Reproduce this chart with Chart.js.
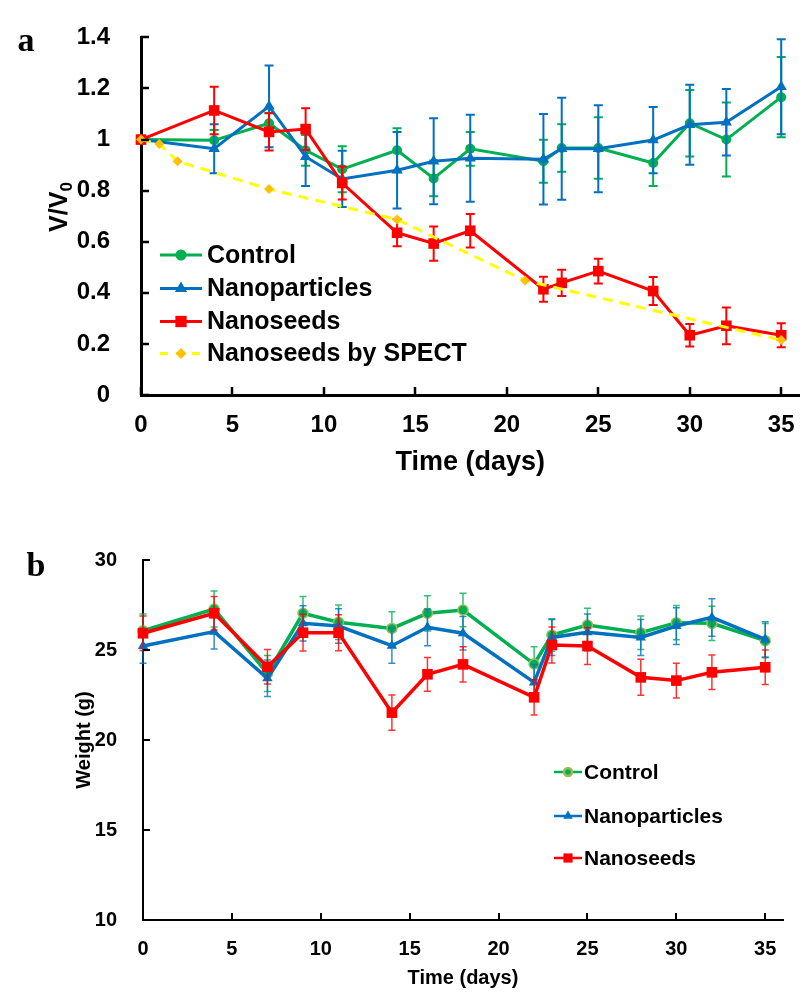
<!DOCTYPE html>
<html>
<head>
<meta charset="utf-8">
<script src="https://cdn.jsdelivr.net/npm/chart.js@4/dist/chart.umd.min.js"></script>
<style>
  body { margin: 0; background: #fff; }
  #wrap { position: relative; width: 807px; height: 996px; }
  canvas { position: absolute; left: 0; }
  #chartA { top: 0; }
  #chartB { top: 500px; }
</style>
</head>
<body>
<div id="wrap">
  <canvas id="chartA" width="807" height="480"></canvas>
  <canvas id="chartB" width="807" height="496"></canvas>
</div>
<script>
// ---- data, panel a (tumour volume) ----
var days = [0, 4, 7, 9, 11, 14, 16, 18, 22, 23, 25, 28, 30, 32, 35];
var controlA = [1.0, 0.997, 1.064, 0.958, 0.884, 0.958, 0.848, 0.964, 0.915, 0.967, 0.967, 0.908, 1.064, 1.0, 1.166];
var controlErrA = [0, 0.04, 0.04, 0.06, 0.09, 0.086, 0.07, 0.066, 0.084, 0.093, 0.12, 0.09, 0.13, 0.145, 0.157];
var particlesA = [1.0, 0.964, 1.13, 0.933, 0.846, 0.88, 0.915, 0.927, 0.923, 0.964, 0.964, 0.998, 1.058, 1.068, 1.207];
var particlesErrA = [0, 0.096, 0.16, 0.115, 0.11, 0.15, 0.168, 0.17, 0.177, 0.2, 0.17, 0.13, 0.157, 0.13, 0.186];
var seedsA = [1.0, 1.114, 1.03, 1.041, 0.83, 0.635, 0.593, 0.643, 0.414, 0.439, 0.485, 0.407, 0.234, 0.271, 0.234];
var seedsErrA = [0, 0.093, 0.073, 0.082, 0.065, 0.053, 0.067, 0.066, 0.049, 0.051, 0.048, 0.055, 0.044, 0.072, 0.047];
var spectDays = [0, 1, 2, 7, 14, 21, 35];
var spectA = [1.0, 0.983, 0.915, 0.806, 0.687, 0.448, 0.215];

// ---- data, panel b (body weight) ----
var controlB = [26.07, 27.28, 23.7, 27.04, 26.54, 26.2, 27.04, 27.22, 24.22, 25.83, 26.39, 25.96, 26.52, 26.48, 25.52];
var controlErrB = [0.93, 1.0, 1.0, 0.93, 0.96, 0.93, 0.98, 0.93, 0.96, 0.9, 0.93, 0.93, 0.95, 0.95, 0.95];
var particlesB = [25.22, 26.02, 23.43, 26.48, 26.33, 25.24, 26.26, 25.93, 23.2, 25.7, 25.98, 25.7, 26.33, 26.81, 25.59];
var particlesErrB = [0.96, 0.96, 1.02, 0.98, 0.96, 0.98, 1.02, 0.93, 1.0, 1.0, 1.02, 1.0, 1.02, 1.04, 0.98];
var seedsB = [25.93, 27.04, 24.07, 25.96, 25.96, 21.52, 23.65, 24.2, 22.37, 25.28, 25.22, 23.48, 23.3, 23.76, 24.04];
var seedsErrB = [0.96, 0.93, 0.96, 1.02, 1.0, 0.98, 0.94, 0.98, 0.98, 1.0, 1.02, 1.0, 0.96, 0.96, 0.96];

var GREEN = '#00b050', BLUE = '#0070c0', RED = '#ff0000', YELLOW = '#ffff00', ORANGE = '#ffc000';

Chart.defaults.font.family = '"Liberation Sans", Arial, sans-serif';
Chart.defaults.font.weight = 'bold';
Chart.defaults.color = '#000';

function pts(xs, ys) {
  return xs.map(function (x, i) { return { x: x, y: ys[i] }; });
}

// error bars drawn under each series
var errorBars = {
  id: 'errorBars',
  beforeDatasetDraw: function (chart, args, opts) {
    var ds = chart.data.datasets[args.index];
    if (!ds.errors) return;
    var ctx = chart.ctx, y = chart.scales.y;
    ctx.save();
    ctx.strokeStyle = ds.errColor || ds.borderColor;
    ctx.lineWidth = opts.width;
    args.meta.data.forEach(function (pt, i) {
      var e = ds.errors[i];
      if (!e) return;
      var v = ds.data[i].y;
      var top = y.getPixelForValue(v + e), bot = y.getPixelForValue(v - e);
      ctx.beginPath();
      ctx.moveTo(pt.x, top); ctx.lineTo(pt.x, bot);
      ctx.moveTo(pt.x - opts.cap, top); ctx.lineTo(pt.x + opts.cap, top);
      ctx.moveTo(pt.x - opts.cap, bot); ctx.lineTo(pt.x + opts.cap, bot);
      ctx.stroke();
    });
    ctx.restore();
  }
};

// tick marks pointing into the plot
var inwardTicks = {
  id: 'inwardTicks',
  afterDraw: function (chart, args, opts) {
    var ctx = chart.ctx, area = chart.chartArea, sx = chart.scales.x, sy = chart.scales.y;
    ctx.save();
    ctx.strokeStyle = '#000';
    ctx.lineWidth = opts.width;
    ctx.beginPath();
    sx.ticks.forEach(function (t) {
      var px = Math.round(sx.getPixelForValue(t.value));
      ctx.moveTo(px, area.bottom); ctx.lineTo(px, area.bottom - opts.len);
    });
    sy.ticks.forEach(function (t) {
      var py = Math.round(sy.getPixelForValue(t.value));
      ctx.moveTo(area.left, py); ctx.lineTo(area.left + opts.len, py);
    });
    ctx.stroke();
    ctx.restore();
  }
};

// legend with line + marker, placed like the original
var lineLegend = {
  id: 'lineLegend',
  afterDraw: function (chart, args, opts) {
    var ctx = chart.ctx;
    ctx.save();
    ctx.font = 'bold ' + opts.size + 'px "Liberation Sans", Arial, sans-serif';
    ctx.textBaseline = 'middle';
    ctx.textAlign = 'left';
    chart.data.datasets.forEach(function (ds, i) {
      var yy = opts.rows[i];
      ctx.strokeStyle = ds.borderColor;
      ctx.lineWidth = opts.lineWidth;
      ctx.setLineDash(ds.borderDash ? opts.dash : []);
      ctx.beginPath();
      ctx.moveTo(opts.x0, yy); ctx.lineTo(opts.x1, yy);
      ctx.stroke();
      ctx.setLineDash([]);
      ctx.fillStyle = ds.pointBackgroundColor;
      ctx.strokeStyle = ds.pointBorderColor;
      Chart.helpers.drawPoint(ctx, {
        pointStyle: ds.pointStyle, rotation: 0,
        radius: opts.radius[i], borderWidth: ds.pointBorderWidth || 0
      }, (opts.x0 + opts.x1) / 2, yy);
      ctx.fillStyle = '#000';
      ctx.fillText(ds.label, opts.tx, yy + 1);
    });
    ctx.restore();
  }
};

// panel letters and the subscripted y title
var extraText = {
  id: 'extraText',
  afterDraw: function (chart, args, opts) {
    var ctx = chart.ctx;
    ctx.save();
    ctx.fillStyle = '#000';
    ctx.textBaseline = 'middle';
    ctx.textAlign = 'center';
    ctx.font = 'bold 34px "Liberation Serif", "Times New Roman", serif';
    ctx.fillText(opts.letter, opts.lx, opts.ly);
    if (opts.vtitle) {
      ctx.translate(opts.vx, opts.vy);
      ctx.rotate(-Math.PI / 2);
      ctx.font = 'bold 25px "Liberation Sans", Arial, sans-serif';
      var main = 'V/V';
      var w1 = ctx.measureText(main).width;
      ctx.font = 'bold 17px "Liberation Sans", Arial, sans-serif';
      var w2 = ctx.measureText('0').width;
      var start = -(w1 + w2) / 2;
      ctx.textAlign = 'left';
      ctx.font = 'bold 25px "Liberation Sans", Arial, sans-serif';
      ctx.fillText(main, start, 0);
      ctx.font = 'bold 17px "Liberation Sans", Arial, sans-serif';
      ctx.fillText('0', start + w1, 7);
    }
    ctx.restore();
  }
};

function plainNum(v) { return String(Math.round(v * 10) / 10); }

// ---------- panel a ----------
new Chart(document.getElementById('chartA'), {
  type: 'line',
  data: {
    datasets: [
      { label: 'Control', data: pts(days, controlA), errors: controlErrA,
        borderColor: GREEN, backgroundColor: GREEN, borderWidth: 3,
        pointStyle: 'circle', pointRadius: 5, pointBackgroundColor: GREEN, pointBorderColor: GREEN, pointBorderWidth: 0,
        order: 4, clip: false },
      { label: 'Nanoparticles', data: pts(days, particlesA), errors: particlesErrA,
        borderColor: BLUE, backgroundColor: BLUE, borderWidth: 3,
        pointStyle: 'triangle', pointRadius: 6.5, pointBackgroundColor: BLUE, pointBorderColor: BLUE, pointBorderWidth: 0,
        order: 3, clip: false },
      { label: 'Nanoseeds', data: pts(days, seedsA), errors: seedsErrA,
        borderColor: RED, backgroundColor: RED, borderWidth: 3,
        pointStyle: 'rect', pointRadius: 7.5, pointBackgroundColor: RED, pointBorderColor: RED, pointBorderWidth: 0,
        order: 2, clip: false },
      { label: 'Nanoseeds by SPECT', data: pts(spectDays, spectA),
        borderColor: YELLOW, backgroundColor: ORANGE, borderWidth: 3, borderDash: [10, 7],
        pointStyle: 'rectRot', pointRadius: 5, pointBackgroundColor: ORANGE, pointBorderColor: ORANGE, pointBorderWidth: 0,
        order: 1, clip: false }
    ]
  },
  options: {
    responsive: false,
    animation: false,
    devicePixelRatio: 1,
    layout: { padding: { left: 0, top: 20, right: 2, bottom: 0 } },
    scales: {
      x: {
        type: 'linear', min: 0, max: 36,
        grid: { display: false },
        border: { display: true, color: '#000', width: 3 },
        ticks: { stepSize: 5, includeBounds: false, padding: 8, font: { size: 24, weight: 'bold' } },
        title: { display: true, text: 'Time (days)', font: { size: 27, weight: 'bold' }, padding: { top: 0, bottom: 1 } },
        afterFit: function (s) { s.height = 85; }
      },
      y: {
        min: 0, max: 1.4,
        grid: { display: false },
        border: { display: true, color: '#000', width: 3 },
        ticks: { stepSize: 0.2, padding: 23, font: { size: 24, weight: 'bold' }, callback: plainNum },
        afterFit: function (s) { s.width = 141; }
      }
    },
    plugins: {
      legend: { display: false },
      tooltip: { enabled: false },
      errorBars: { width: 2, cap: 4.5 },
      inwardTicks: { len: 8, width: 2.5 },
      lineLegend: { x0: 160, x1: 202, tx: 207, size: 25, lineWidth: 3, dash: [8, 8],
                    rows: [255, 288.5, 321.5, 353.5], radius: [5.5, 7, 8, 5.5] },
      extraText: { letter: 'a', lx: 26, ly: 42, vtitle: true, vx: 60, vy: 207 }
    }
  },
  plugins: [errorBars, inwardTicks, lineLegend, extraText]
});

// ---------- panel b ----------
new Chart(document.getElementById('chartB'), {
  type: 'line',
  data: {
    datasets: [
      { label: 'Control', data: pts(days, controlB), errors: controlErrB,
        borderColor: GREEN, backgroundColor: GREEN, borderWidth: 3.5, errColor: 'rgba(0,176,80,0.8)',
        pointStyle: 'circle', pointRadius: 5, pointBackgroundColor: GREEN, pointBorderColor: '#9bbb59', pointBorderWidth: 1.5,
        order: 4, clip: false },
      { label: 'Nanoparticles', data: pts(days, particlesB), errors: particlesErrB,
        borderColor: BLUE, backgroundColor: BLUE, borderWidth: 3.5, errColor: 'rgba(0,112,192,0.8)',
        pointStyle: 'triangle', pointRadius: 6, pointBackgroundColor: BLUE, pointBorderColor: BLUE, pointBorderWidth: 0,
        order: 3, clip: false },
      { label: 'Nanoseeds', data: pts(days, seedsB), errors: seedsErrB,
        borderColor: RED, backgroundColor: RED, borderWidth: 3.5, errColor: 'rgba(255,0,0,0.8)',
        pointStyle: 'rect', pointRadius: 7.5, pointBackgroundColor: RED, pointBorderColor: RED, pointBorderWidth: 0,
        order: 2, clip: false }
    ]
  },
  options: {
    responsive: false,
    animation: false,
    devicePixelRatio: 1,
    layout: { padding: { left: 0, top: 60, right: 24, bottom: 0 } },
    scales: {
      x: {
        type: 'linear', min: 0, max: 36,
        grid: { display: false },
        border: { display: true, color: '#000', width: 2 },
        ticks: { stepSize: 5, includeBounds: false, padding: 9, font: { size: 20, weight: 'bold' } },
        title: { display: true, text: 'Time (days)', font: { size: 20, weight: 'bold' }, padding: { top: 0, bottom: 6 } },
        afterFit: function (s) { s.height = 76; }
      },
      y: {
        min: 10, max: 30,
        grid: { display: false },
        border: { display: true, color: '#000', width: 2 },
        ticks: { stepSize: 5, padding: 18, font: { size: 20, weight: 'bold' } },
        title: { display: true, text: 'Weight (g)', font: { size: 20, weight: 'bold' }, padding: { top: 72, bottom: 0 } },
        afterFit: function (s) { s.width = 143; }
      }
    },
    plugins: {
      legend: { display: false },
      tooltip: { enabled: false },
      errorBars: { width: 1.5, cap: 3.5 },
      inwardTicks: { len: 7, width: 2 },
      lineLegend: { x0: 554, x1: 582, tx: 584, size: 21, lineWidth: 2.5, dash: [],
                    rows: [272, 316, 358], radius: [4, 5.5, 6.5] },
      extraText: { letter: 'b', lx: 36, ly: 67, vtitle: false }
    }
  },
  plugins: [errorBars, inwardTicks, lineLegend, extraText]
});
</script>
</body>
</html>
